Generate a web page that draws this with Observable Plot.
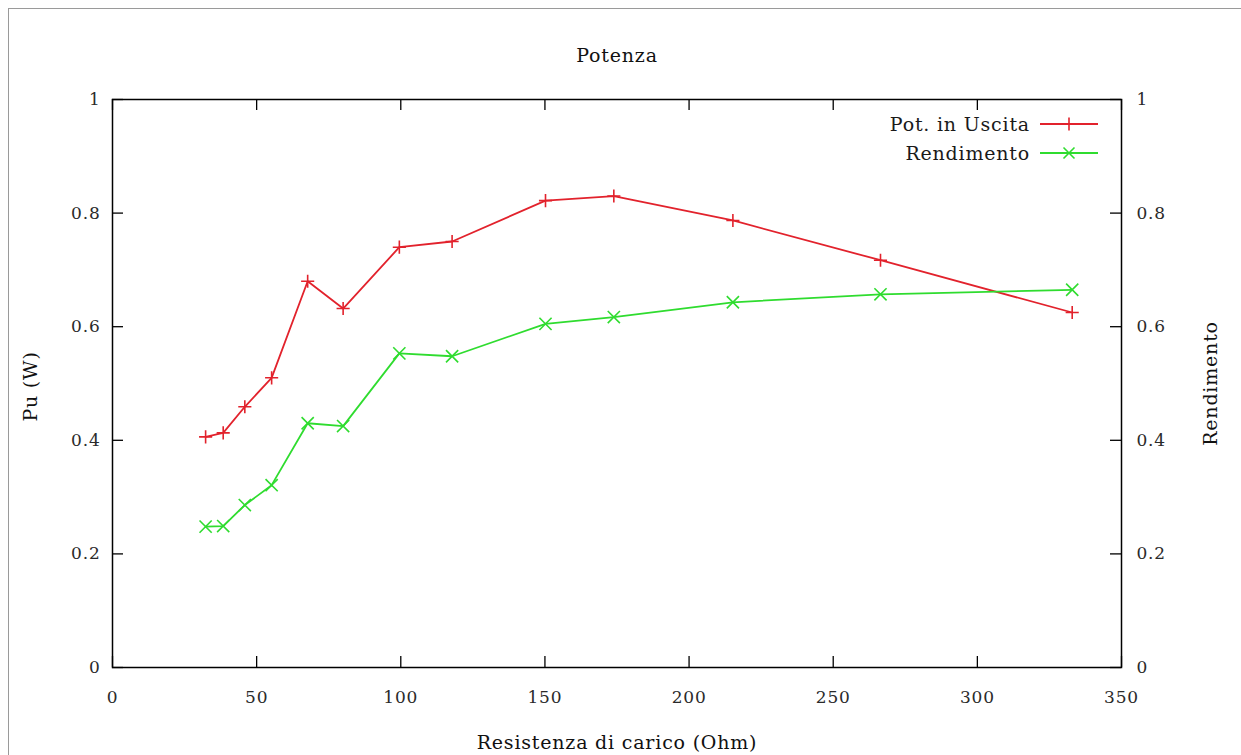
<!DOCTYPE html>
<html><head><meta charset="utf-8">
<script src="https://cdn.jsdelivr.net/npm/d3@7"></script>
<script src="https://cdn.jsdelivr.net/npm/@observablehq/plot@0.6"></script>
<style>
html,body{margin:0;padding:0;background:#fff;overflow:hidden}
#wrap{position:relative;width:1241px;height:755px}
#chart{position:absolute;left:0;top:0}
#border{position:absolute;left:8px;top:8px;right:0;bottom:0;border-left:1px solid #9a9a9a;border-top:1px solid #9a9a9a;pointer-events:none}
#chart svg, #chart svg text{font-family:'DejaVu Serif',serif !important;letter-spacing:0.8px}
.lg{position:absolute;font-family:'DejaVu Serif',serif;font-size:19px;letter-spacing:0.8px;color:#1a1a1a;height:24px;line-height:24px;text-align:right;white-space:nowrap}
.lgs{position:absolute}
</style></head><body>
<div id="wrap"><div id="chart"></div><div id="border"></div></div>
<script>
const resistance = [32.3, 38.4, 45.9, 55.2, 67.7, 80.0, 99.5, 117.8, 150.2, 173.9, 215.2, 266.4, 332.9];
const potenza = [0.406, 0.413, 0.459, 0.510, 0.680, 0.632, 0.740, 0.750, 0.822, 0.830, 0.787, 0.717, 0.625];
const rendimento = [0.248, 0.249, 0.286, 0.321, 0.430, 0.425, 0.553, 0.548, 0.605, 0.617, 0.643, 0.657, 0.665];
const xTicks = [0, 50, 100, 150, 200, 250, 300, 350];
const xTickLabels = ["0", "50", "100", "150", "200", "250", "300", "350"];
const yTicks = [0, 0.2, 0.4, 0.6, 0.8, 1];
const yTickLabels = ["0", "0.2", "0.4", "0.6", "0.8", "1"];
const seriesNames = ["Pot. in Uscita", "Rendimento"];
const seriesColors = ["#e2222c", "#2fdc2f"];
const seriesSymbols = ["plus", "times"];
const titleText = "Potenza";
const xLabel = "Resistenza di carico (Ohm)";
const yLabel = "Pu (W)";
const y2Label = "Rendimento";

const W = 1241, H = 755, mL = 112, mR = 120, mT = 99, mB = 88;
const innerW = W - mL - mR, innerH = H - mT - mB, tk = 11;

const pData = resistance.map((r, i) => ({r, v: potenza[i]}));
const eData = resistance.map((r, i) => ({r, v: rendimento[i]}));

const fmtY = d => yTickLabels[yTicks.indexOf(d)];
const fmtX = d => xTickLabels[xTicks.indexOf(d)];
const lab = {textAnchor: "middle", lineAnchor: "middle", fontSize: 19, fill: "#111"};

const chart = Plot.plot({
  width: W, height: H,
  marginLeft: mL, marginRight: mR, marginTop: mT, marginBottom: mB,
  style: {fontFamily: "'DejaVu Serif', serif", fontSize: "17px", color: "#2a2a2a", background: "white"},
  x: {domain: [0, 350]},
  y: {domain: [0, 1]},
  marks: [
    Plot.frame({stroke: "black", strokeWidth: 1.5}),
    Plot.ruleY(yTicks, {insetRight: innerW - tk, stroke: "black", strokeWidth: 1.3}),
    Plot.ruleY(yTicks, {insetLeft: innerW - tk, stroke: "black", strokeWidth: 1.3}),
    Plot.ruleX(xTicks, {insetTop: innerH - tk, stroke: "black", strokeWidth: 1.3}),
    Plot.ruleX(xTicks, {insetBottom: innerH - tk, stroke: "black", strokeWidth: 1.3}),
    Plot.axisY({anchor: "left", ticks: yTicks, tickSize: 0, tickPadding: 12, tickFormat: fmtY, label: null, fontSize: 17}),
    Plot.axisY({anchor: "right", ticks: yTicks, tickSize: 0, tickPadding: 15, tickFormat: fmtY, label: null, fontSize: 17}),
    Plot.axisX({anchor: "bottom", ticks: xTicks, tickSize: 0, tickPadding: 23, tickFormat: fmtX, label: null, fontSize: 17}),
    Plot.line(pData, {x: "r", y: "v", stroke: seriesColors[0], strokeWidth: 1.8}),
    Plot.dot(pData, {x: "r", y: "v", symbol: seriesSymbols[0], stroke: seriesColors[0], r: 4.3, strokeWidth: 1.6}),
    Plot.line(eData, {x: "r", y: "v", stroke: seriesColors[1], strokeWidth: 1.8}),
    Plot.dot(eData, {x: "r", y: "v", symbol: seriesSymbols[1], stroke: seriesColors[1], r: 5.6, strokeWidth: 1.6}),
    Plot.text([titleText], {text: d => d, frameAnchor: "top", dy: -44, ...lab}),
    Plot.text([xLabel], {text: d => d, frameAnchor: "bottom", dy: 75, ...lab}),
    Plot.text([yLabel], {text: d => d, frameAnchor: "left", dx: -82, dy: 3, rotate: -90, ...lab}),
    Plot.text([y2Label], {text: d => d, frameAnchor: "right", dx: 89, rotate: -90, ...lab})
  ]
});
document.getElementById("chart").appendChild(chart);

// legend (top-right, inside the frame)
const wrap = document.getElementById("wrap");
const legendRight = 1030, sampleLeft = 1040, sampleW = 58, rowY = [124, 153];
const symPaths = {
  plus: "M-6.5,0H6.5M0,-6.5V6.5",
  times: "M-5.5,-5.5L5.5,5.5M-5.5,5.5L5.5,-5.5"
};
seriesNames.forEach((name, i) => {
  const t = document.createElement("div");
  t.className = "lg";
  t.style.right = (W - legendRight) + "px";
  t.style.top = (rowY[i] - 12) + "px";
  t.textContent = name;
  wrap.appendChild(t);
  const s = document.createElementNS("http://www.w3.org/2000/svg", "svg");
  s.setAttribute("class", "lgs");
  s.setAttribute("width", sampleW);
  s.setAttribute("height", 16);
  s.style.left = sampleLeft + "px";
  s.style.top = (rowY[i] - 8) + "px";
  s.innerHTML = `<line x1="0" x2="${sampleW}" y1="8" y2="8" stroke="${seriesColors[i]}" stroke-width="1.8"/>` +
    `<path transform="translate(${sampleW / 2},8)" d="${symPaths[seriesSymbols[i]]}" stroke="${seriesColors[i]}" stroke-width="1.6" fill="none"/>`;
  wrap.appendChild(s);
});
</script>
</body></html>
